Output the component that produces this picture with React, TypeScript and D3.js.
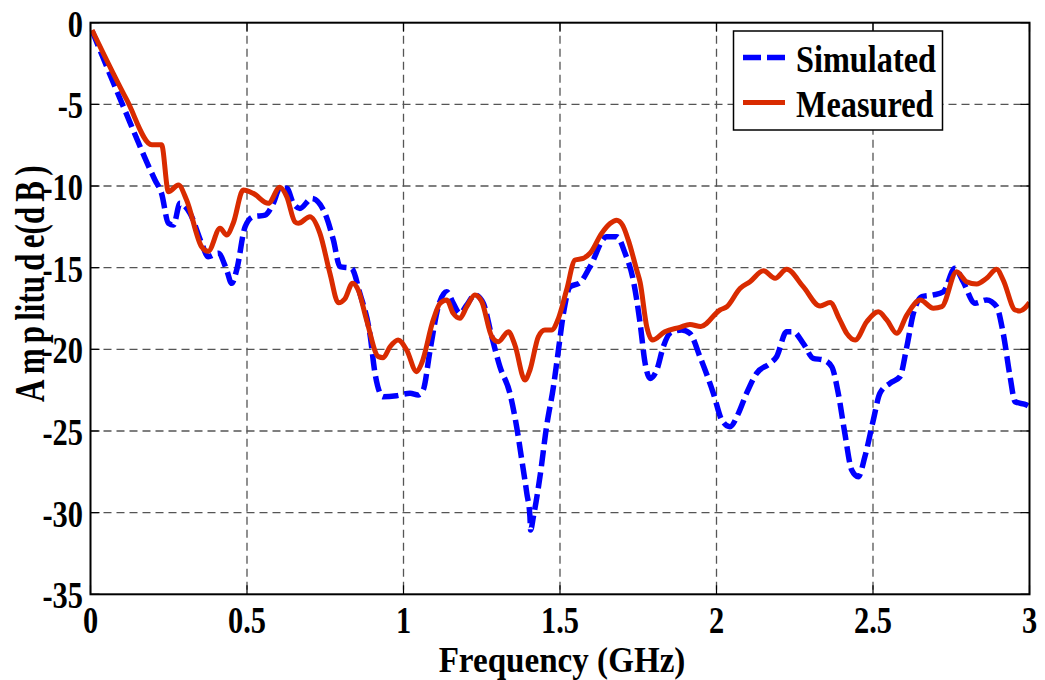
import React from "react";
import * as d3 from "d3";

// Frequency (GHz) / amplitude (dB) samples for the two traces
const simFreq = [
  0.005, 0.105, 0.206, 0.227, 0.249, 0.265, 0.286, 0.318, 0.355, 0.376, 0.408, 0.435, 0.451, 0.467,
  0.494, 0.52, 0.558, 0.584, 0.605, 0.627, 0.648, 0.669, 0.707, 0.749, 0.776, 0.797, 0.834, 0.861,
  0.893, 0.909, 0.935, 0.978, 1.021, 1.047, 1.063, 1.085, 1.111, 1.138, 1.159, 1.18, 1.202, 1.228,
  1.255, 1.282, 1.308, 1.34, 1.362, 1.378, 1.394, 1.404, 1.406, 1.415, 1.436, 1.457, 1.479, 1.495,
  1.511, 1.532, 1.564, 1.596, 1.649, 1.681, 1.708, 1.734, 1.756, 1.772, 1.788, 1.809, 1.83, 1.851,
  1.889, 1.915, 1.947, 1.99, 2.017, 2.043, 2.07, 2.096, 2.128, 2.171, 2.192, 2.224, 2.245, 2.277,
  2.309, 2.341, 2.368, 2.389, 2.41, 2.432, 2.453, 2.474, 2.501, 2.522, 2.554, 2.586, 2.608, 2.629,
  2.656, 2.693, 2.725, 2.762, 2.788, 2.826, 2.863, 2.895, 2.916, 2.938, 2.954, 2.991, 3.0,
];
const simAmp = [
  -0.5, -5.14, -9.63, -10.45, -12.28, -12.39, -11.06, -11.67, -13.5, -14.33, -14.12, -15.14, -15.96, -15.14,
  -12.49, -11.88, -11.78, -11.06, -10.14, -10.14, -11.06, -11.37, -10.76, -11.67, -13.31, -14.94, -15.04, -16.6,
  -19.1, -21.47, -22.9, -22.84, -22.69, -22.8, -22.49, -20.04, -17.39, -16.47, -17.18, -17.8, -17.29, -16.67,
  -17.18, -19.22, -21.06, -22.69, -24.8, -26.78, -28.82, -30.25, -31.07, -30.25, -27.8, -24.74, -22.29, -20.04,
  -17.8, -16.17, -15.92, -14.94, -13.1, -13.1, -14.12, -15.76, -18.41, -20.86, -21.78, -21.27, -19.84, -19.02,
  -18.82, -19.02, -20.45, -22.69, -24.33, -24.74, -23.92, -22.69, -21.47, -20.86, -20.45, -18.92, -18.92, -19.63,
  -20.55, -20.65, -21.06, -22.69, -25.14, -27.39, -27.8, -26.58, -24.33, -22.69, -22.08, -21.68, -19.84, -17.8,
  -16.78, -16.67, -16.47, -15.04, -15.86, -17.18, -16.98, -17.39, -19.02, -21.68, -23.21, -23.41, -23.51,
];

const measFreq = [
  0.005, 0.116, 0.196, 0.227, 0.249, 0.281, 0.307, 0.355, 0.376, 0.414, 0.435, 0.456, 0.488, 0.52,
  0.568, 0.605, 0.627, 0.653, 0.664, 0.701, 0.733, 0.765, 0.792, 0.813, 0.837, 0.856, 0.882, 0.92,
  0.935, 0.957, 0.983, 1.01, 1.042, 1.058, 1.095, 1.117, 1.138, 1.159, 1.18, 1.202, 1.228, 1.25,
  1.282, 1.303, 1.335, 1.356, 1.388, 1.404, 1.431, 1.452, 1.473, 1.495, 1.521, 1.548, 1.574, 1.596,
  1.633, 1.66, 1.681, 1.7, 1.718, 1.745, 1.756, 1.777, 1.795, 1.835, 1.883, 1.915, 1.95, 2.011,
  2.033, 2.075, 2.107, 2.15, 2.187, 2.224, 2.277, 2.331, 2.363, 2.394, 2.416, 2.443, 2.48, 2.517,
  2.544, 2.576, 2.608, 2.651, 2.693, 2.72, 2.767, 2.799, 2.831, 2.863, 2.895, 2.916, 2.954, 2.97, 3.0,
];
const measAmp = [
  -0.45, -4.73, -7.47, -7.47, -10.35, -9.94, -10.86, -13.72, -14.0, -12.59, -13.0, -12.28, -10.25, -10.45,
  -11.06, -10.08, -10.65, -12.19, -12.28, -11.88, -12.9, -15.35, -17.15, -16.9, -15.96, -16.4, -18.2, -20.45,
  -20.51, -19.84, -19.43, -20.04, -21.37, -20.86, -18.2, -17.18, -16.98, -17.8, -18.1, -17.39, -16.67, -17.08,
  -19.22, -19.53, -18.92, -19.74, -21.88, -21.27, -19.22, -18.82, -18.82, -18.1, -16.37, -14.53, -14.43, -14.12,
  -12.9, -12.3, -12.1, -12.4, -13.3, -15.14, -15.9, -18.6, -19.43, -18.92, -18.65, -18.48, -18.6, -17.59,
  -17.39, -16.27, -15.86, -15.19, -15.65, -15.1, -16.16, -17.35, -17.14, -18.2, -19.02, -19.43, -18.31, -17.7,
  -18.2, -19.02, -17.9, -16.98, -17.49, -17.39, -15.25, -15.86, -16.0, -15.65, -15.1, -15.76, -17.59, -17.65, -17.14,
];

const xTicks = [0, 0.5, 1, 1.5, 2, 2.5, 3];
const xTickLabels = ["0", "0.5", "1", "1.5", "2", "2.5", "3"];
const yTicks = [0, -5, -10, -15, -20, -25, -30, -35];
const yTickLabels = ["0", "-5", "-10", "-15", "-20", "-25", "-30", "-35"];

const seriesNames = ["Simulated", "Measured"];
const seriesColors = ["#0000ff", "#d92b00"];

const yTitle = "Amplitude(dB)";
// extra gap (before scaling) placed ahead of each character of the y title
const yTitleGaps = [0, 7, 7, 7, 0, 0, 0, 7, 7, 0, 0, 7, 7];

const W = 1045;
const H = 680;
const left = 90.5;
const right = 1029.5;
const top = 22.7;
const bottom = 594.3;

const FONT = "'Liberation Serif', 'Times New Roman', serif";

export default function App() {
  const x = d3.scaleLinear().domain([0, 3]).range([left, right]);
  const y = d3.scaleLinear().domain([-35, 0]).range([bottom, top]);

  const line = d3
    .line<[number, number]>()
    .x((d) => x(d[0]))
    .y((d) => y(d[1]))
    .curve(d3.curveMonotoneX);

  const simPts = simFreq.map((f, i) => [f, simAmp[i]] as [number, number]);
  const measPts = measFreq.map((f, i) => [f, measAmp[i]] as [number, number]);

  const tickLen = 9;
  const sx = 0.8;

  return (
    <svg
      width={W}
      height={H}
      style={{ position: "absolute", left: 0, top: 0, background: "#fff" }}
      fontFamily={FONT}
      fontWeight="bold"
    >
      <defs>
        <clipPath id="plot-clip">
          <rect x={left} y={top} width={right - left} height={bottom - top} />
        </clipPath>
      </defs>

      {/* grid */}
      <g stroke="#555" strokeWidth={1.3} strokeDasharray="8,5" fill="none">
        {xTicks.slice(1, -1).map((t) => (
          <line key={"gx" + t} x1={x(t)} x2={x(t)} y1={top} y2={bottom} />
        ))}
        {yTicks.slice(1, -1).map((t) => (
          <line key={"gy" + t} x1={left} x2={right} y1={y(t)} y2={y(t)} />
        ))}
      </g>

      {/* tick marks on all four sides */}
      <g stroke="#000" strokeWidth={1.2}>
        {xTicks.map((t) => (
          <g key={"tx" + t}>
            <line x1={x(t)} x2={x(t)} y1={bottom} y2={bottom - tickLen} />
            <line x1={x(t)} x2={x(t)} y1={top} y2={top + tickLen} />
          </g>
        ))}
        {yTicks.map((t) => (
          <g key={"ty" + t}>
            <line x1={left} x2={left + tickLen} y1={y(t)} y2={y(t)} />
            <line x1={right} x2={right - tickLen} y1={y(t)} y2={y(t)} />
          </g>
        ))}
      </g>

      {/* traces */}
      <g clipPath="url(#plot-clip)" fill="none" strokeLinejoin="round">
        <path d={line(simPts) || ""} stroke={seriesColors[0]} strokeWidth={5.5} strokeDasharray="16,6" />
        <path d={line(measPts) || ""} stroke={seriesColors[1]} strokeWidth={5} />
      </g>

      {/* axes box */}
      <rect x={left} y={top} width={right - left} height={bottom - top} fill="none" stroke="#000" strokeWidth={2} />

      {/* tick labels */}
      <g fontSize={38} fill="#000">
        {xTicks.map((t, i) => (
          <text key={"lx" + t} transform={`translate(${x(t)},${bottom + 39}) scale(${sx},1)`} textAnchor="middle">
            {xTickLabels[i]}
          </text>
        ))}
        {yTicks.map((t, i) => (
          <text key={"ly" + t} transform={`translate(83,${y(t) + 14}) scale(${sx},1)`} textAnchor="end">
            {yTickLabels[i]}
          </text>
        ))}
      </g>

      {/* axis titles */}
      <text transform={`translate(562,672) scale(0.92,1)`} textAnchor="middle" fontSize={36} fill="#000">
        Frequency (GHz)
      </text>
      <text transform={`translate(44,402) rotate(-90) scale(0.74,1)`} fontSize={42} fill="#000">
        {yTitle.split("").map((ch, i) => (
          <tspan key={i} dx={yTitleGaps[i]}>
            {ch}
          </tspan>
        ))}
      </text>

      {/* legend */}
      <g>
        <rect x={733.5} y={31} width={209} height={99} fill="#fff" stroke="#000" strokeWidth={1.5} />
        {seriesNames.map((name, i) => {
          const ly = i === 0 ? 57.5 : 102.5;
          return (
            <g key={name}>
              <line
                x1={743}
                x2={785}
                y1={ly}
                y2={ly}
                stroke={seriesColors[i]}
                strokeWidth={i === 0 ? 5.5 : 5}
                strokeDasharray={i === 0 ? "18,6" : undefined}
              />
              <text transform={`translate(796,${ly + 14}) scale(0.85,1)`} fontSize={38} fill="#000">
                {name}
              </text>
            </g>
          );
        })}
      </g>
    </svg>
  );
}
